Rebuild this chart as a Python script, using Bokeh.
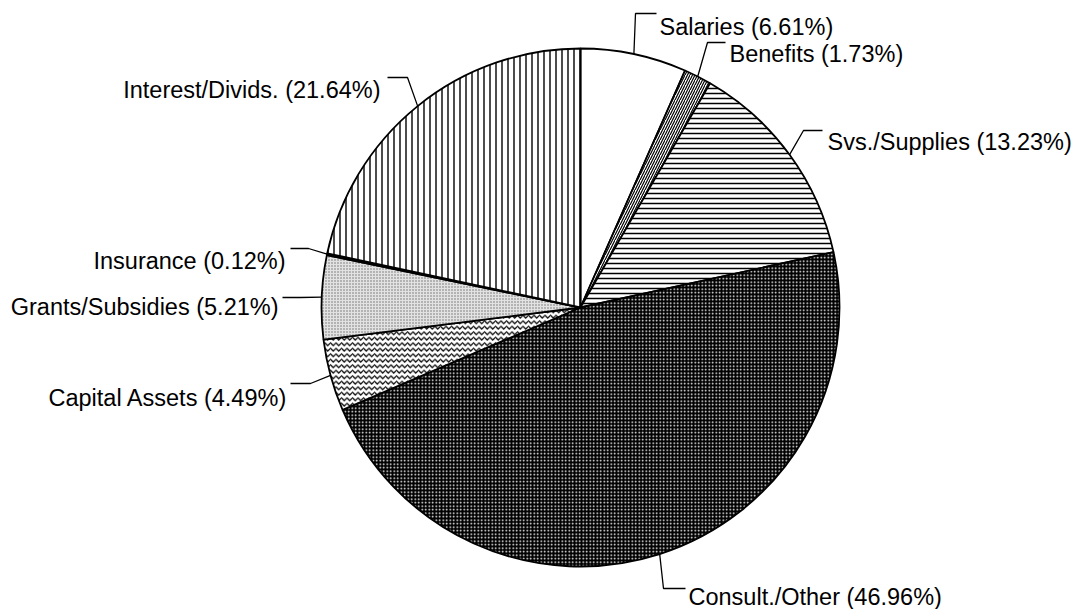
import math
from bokeh.plotting import figure
from bokeh.models import Range1d
from bokeh.core.properties import value
from bokeh.embed import file_html
from bokeh.resources import INLINE

# ---- data ----
categories = ["Salaries", "Benefits", "Svs./Supplies", "Consult./Other",
              "Capital Assets", "Grants/Subsidies", "Insurance", "Interest/Divids."]
percents = [6.61, 1.73, 13.23, 46.96, 4.49, 5.21, 0.12, 21.64]

# ---- styles (per slice) ----
fills = ["white", "white", "white", "black", "white", "#e2e2e2", "white", "white"]
hatches = [" ", "/", "-", ".", "v", ".", " ", "|"]
hatch_colors = ["black", "black", "black", "white", "black", "#6a6a6a", "black", "black"]
hatch_scales = [6, 5, 5, 3.5, 5.5, 3, 6, 6]
hatch_weights = [1, 1.2, 1.5, 1.0, 1.2, 0.8, 1, 1.4]

# ---- layout (screen pixels: label elbows, text anchors) ----
# (elbow_x, elbow_y, line_end_x, text_x, text_baseline_y, align)
label_layout = [
    (635, 13, 656, 659, 26.5, "left"),
    (707, 42, 725, 729, 53.5, "left"),
    (803, 130, 822, 827, 141.5, "left"),
    (663, 588, 685, 688, 596.5, "left"),
    (310, 383, 290, 287, 397.5, "right"),
    (300, 297, 282, 278, 306.5, "right"),
    (308, 248, 290, 285, 260.5, "right"),
    (407, 77, 387, 380, 89, "right"),
]

W, H = 1076, 609
CX, CY, R = 580, 307, 259


def sy(y):
    # screen y -> data y
    return H - y


p = figure(width=W, height=H, output_backend="svg", toolbar_location=None,
           x_range=Range1d(0, W), y_range=Range1d(0, H),
           min_border=0, outline_line_color=None)
p.axis.visible = False
p.grid.visible = False
p.background_fill_color = "white"
p.border_fill_color = "white"

total = sum(percents)
cum = 0.0
mids = []
for i, v in enumerate(percents):
    f0 = cum / total
    f1 = (cum + v) / total
    cum += v
    start = math.pi / 2 - 2 * math.pi * f0
    end = math.pi / 2 - 2 * math.pi * f1
    mids.append((f0 + f1) / 2)
    p.wedge(x=CX, y=sy(CY), radius=R, start_angle=start, end_angle=end,
            direction="clock", fill_color=fills[i],
            hatch_pattern=hatches[i], hatch_color=hatch_colors[i],
            hatch_scale=hatch_scales[i], hatch_weight=hatch_weights[i],
            line_color="black", line_width=1.8)

xs, ys, lx, ly, txt, aligns = [], [], [], [], [], []
for i, name in enumerate(categories):
    ang = 2 * math.pi * mids[i]
    ax = CX + R * math.sin(ang)
    ay = CY - R * math.cos(ang)
    ex, ey, lend, tx, tb, al = label_layout[i]
    xs.append([ax, ex, lend])
    ys.append([sy(ay), sy(ey), sy(ey)])
    lx.append(tx)
    ly.append(sy(tb))
    txt.append(f"{name} ({percents[i]:.2f}%)")
    aligns.append(al)

p.multi_line(xs=xs, ys=ys, line_color="black", line_width=1.3)
for i in range(len(txt)):
    p.text(x=[lx[i]], y=[ly[i]], text=[txt[i]], text_align=aligns[i],
           text_baseline="alphabetic", text_font=value("Liberation Sans"),
           text_font_size="23.5px", text_color="black")

open("out.html", "w").write(file_html(p, INLINE))
